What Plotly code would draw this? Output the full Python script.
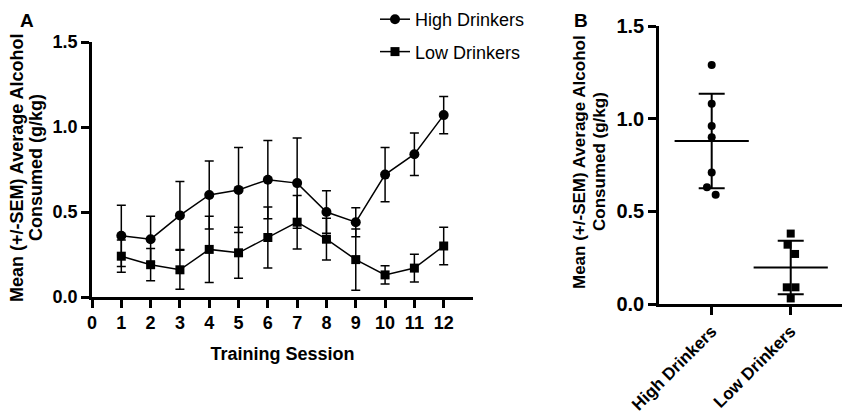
import numpy as np
import plotly.graph_objects as go

# panel A: mean intake per training session
sessions = list(range(1, 13))
high_mean = [0.36, 0.34, 0.48, 0.60, 0.63, 0.69, 0.67, 0.50, 0.44, 0.72, 0.84, 1.07]
high_sem = [0.18, 0.135, 0.20, 0.20, 0.25, 0.23, 0.265, 0.125, 0.085, 0.16, 0.125, 0.11]
low_mean = [0.24, 0.19, 0.16, 0.28, 0.26, 0.35, 0.44, 0.34, 0.22, 0.13, 0.17, 0.30]
low_sem = [0.095, 0.095, 0.115, 0.195, 0.15, 0.18, 0.157, 0.123, 0.18, 0.054, 0.082, 0.11]
x_ticks = list(range(0, 13))

# panel B: individual animal averages
groups = ["High Drinkers", "Low Drinkers"]
high_pts = [1.29, 1.08, 0.96, 0.90, 0.71, 0.63, 0.59]
high_jit = [0, 0, 0, 0, 0, -0.06, 0.05]
low_pts = [0.38, 0.32, 0.27, 0.09, 0.09, 0.03]
low_jit = [0, -0.04, 0.055, -0.05, 0.06, 0]
y_ticks = [0.0, 0.5, 1.0, 1.5]

ytitle_lines = ["Mean (+/-SEM) Average Alcohol", "Consumed (g/kg)"]

FONT = "Arial, Liberation Sans, sans-serif"
PAD = 8  # page body margin
W, H = 850 - PAD, 414 - PAD


def px(x):
    return (x - PAD) / W


def py(y):
    return 1 - (y - PAD) / H


fig = go.Figure()

for name, mean, sem, sym, size in [
    ("High Drinkers", high_mean, high_sem, "circle", 10),
    ("Low Drinkers", low_mean, low_sem, "square", 9),
]:
    fig.add_scatter(
        x=sessions, y=mean, name=name, mode="lines+markers",
        line=dict(color="black", width=1.5),
        marker=dict(symbol=sym, size=size, color="black"),
        error_y=dict(type="data", array=sem, color="black", thickness=1.5, width=4.5),
        xaxis="x", yaxis="y", legendgroup=name, cliponaxis=False,
    )

for i, (pts, jit, sym) in enumerate([(high_pts, high_jit, "circle"), (low_pts, low_jit, "square")]):
    fig.add_scatter(
        x=[i + j for j in jit], y=pts, mode="markers",
        marker=dict(symbol=sym, size=8, color="black"),
        xaxis="x2", yaxis="y2", showlegend=False, cliponaxis=False,
    )
    # mean line with SD bars
    fig.add_scatter(
        x=[i], y=[np.mean(pts)], mode="markers",
        marker=dict(symbol="line-ew-open", size=53, color="black",
                    line=dict(color="black", width=2)),
        error_y=dict(type="data", array=[np.std(pts, ddof=1)], color="black", thickness=2, width=13),
        xaxis="x2", yaxis="y2", showlegend=False, cliponaxis=False,
    )

axis_style = dict(
    showline=True, linecolor="black", linewidth=2.5, showgrid=False, zeroline=False,
    ticks="outside", ticklen=8, tickwidth=2.5, tickcolor="black", automargin=False,
)

fig.update_layout(
    width=W, height=H,
    margin=dict(l=0, r=0, t=0, b=0, autoexpand=False),
    paper_bgcolor="white", plot_bgcolor="white",
    font=dict(family=FONT, color="black"),
    xaxis=dict(
        **axis_style, domain=[px(92), px(473)], range=[0, 13],
        tickvals=x_ticks, tickfont=dict(size=18, weight="bold"),
        title=dict(text="Training Session", font=dict(size=18, weight="bold"), standoff=16),
        anchor="y",
    ),
    yaxis=dict(
        **axis_style, domain=[py(297), py(42)], range=[0, 1.5],
        tickvals=y_ticks, tickformat=".1f", tickfont=dict(size=18, weight="bold"),
        anchor="x",
    ),
    xaxis2=dict(
        **axis_style, domain=[px(659), px(845)], range=[-0.667, 1.687],
        tickvals=[0, 1], ticktext=groups, tickangle=-45,
        tickfont=dict(size=17, weight="bold"), anchor="y2",
    ),
    yaxis2=dict(
        **axis_style, domain=[py(304), py(26)], range=[0, 1.5],
        tickvals=y_ticks, tickformat=".1f", tickfont=dict(size=20, weight="bold"),
        anchor="x2",
    ),
    legend=dict(
        x=px(375), y=py(1), xanchor="left", yanchor="top",
        font=dict(size=18), itemwidth=30, tracegroupgap=6,
        bgcolor="rgba(0,0,0,0)",
    ),
    showlegend=True,
)

# rotated y titles, one annotation per line to keep the lines tight
for (x1, x2, yc, fs) in [(17, 36, 168, 18), (579, 599, 162, 17)]:
    for xc, line in zip([x1, x2], ytitle_lines):
        fig.add_annotation(x=px(xc), y=py(yc), xref="paper", yref="paper", text=line,
                           xanchor="center", yanchor="middle", textangle=-90, showarrow=False,
                           font=dict(size=fs, weight="bold"))

fig.add_annotation(x=px(18), y=1, xref="paper", yref="paper", text="A",
                   xanchor="left", yanchor="top", showarrow=False, font=dict(size=19, weight="bold"))
fig.add_annotation(x=px(572), y=1, xref="paper", yref="paper", text="B",
                   xanchor="left", yanchor="top", showarrow=False, font=dict(size=19, weight="bold"))

fig.write_html("out.html")
